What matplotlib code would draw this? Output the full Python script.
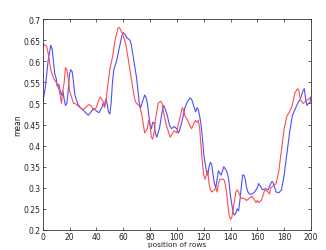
import matplotlib
matplotlib.use("Agg")
import matplotlib.pyplot as plt

blue_x = [0,2,4,6,7,8,9,10,11,12,13,14,15,16,17,18,19,20,21,22,23,24,26,28,30,32,34,36,38,40,42,44,45,46,47,48,49,50,51,52,53,55,57,59,60,61,63,65,66,68,70,71,72,73,74,75,76,77,78,79,80,81,82,83,84,85,86,87,88,89,90,91,92,93,94,95,96,98,100,101,102,104,106,108,110,111,112,114,115,116,117,118,119,120,121,122,123,124,125,126,127,128,129,130,131,132,133,134,135,136,137,138,139,140,141,142,143,144,145,146,147,148,149,150,151,152,153,154,156,158,160,161,162,164,166,168,170,171,172,173,174,176,178,180,182,184,186,188,190,192,194,195,196,197,198,199,200]
blue_y = [0.5,0.54,0.6,0.638,0.63,0.6,0.57,0.56,0.54,0.545,0.53,0.52,0.53,0.51,0.495,0.5,0.53,0.57,0.58,0.575,0.55,0.52,0.5,0.49,0.485,0.478,0.472,0.48,0.488,0.482,0.478,0.49,0.5,0.495,0.51,0.5,0.48,0.475,0.5,0.55,0.58,0.6,0.63,0.66,0.668,0.665,0.655,0.65,0.64,0.6,0.56,0.53,0.5,0.49,0.5,0.51,0.52,0.515,0.5,0.475,0.45,0.44,0.455,0.455,0.43,0.42,0.43,0.44,0.46,0.48,0.495,0.49,0.48,0.47,0.455,0.445,0.44,0.445,0.44,0.43,0.435,0.46,0.49,0.505,0.513,0.51,0.5,0.48,0.49,0.485,0.47,0.45,0.42,0.38,0.36,0.34,0.33,0.35,0.36,0.355,0.33,0.31,0.3,0.32,0.34,0.335,0.33,0.34,0.35,0.345,0.34,0.33,0.31,0.28,0.26,0.24,0.235,0.24,0.25,0.245,0.27,0.3,0.33,0.33,0.32,0.3,0.29,0.285,0.285,0.29,0.3,0.31,0.305,0.295,0.298,0.295,0.31,0.315,0.31,0.3,0.29,0.288,0.295,0.33,0.38,0.43,0.47,0.485,0.5,0.51,0.53,0.535,0.51,0.495,0.5,0.5,0.515]

red_x = [0,1,3,4,5,6,7,8,9,10,11,12,13,14,15,16,17,18,19,20,21,22,23,24,26,28,30,32,34,36,38,40,42,43,44,45,46,47,48,50,52,54,56,57,58,60,62,64,65,66,67,68,69,70,72,73,74,75,76,77,78,79,80,81,82,83,84,85,86,88,89,90,92,94,95,96,98,100,101,103,104,105,106,108,110,111,113,114,115,116,117,118,119,120,121,122,123,124,125,126,128,129,130,131,132,134,135,136,137,138,139,140,141,142,143,144,145,146,148,150,152,154,156,158,159,160,161,163,165,166,168,169,170,172,174,176,178,180,182,184,186,188,190,191,192,194,196,198,200]
red_y = [0.63,0.64,0.635,0.62,0.6,0.58,0.57,0.56,0.555,0.55,0.54,0.535,0.52,0.5,0.53,0.55,0.585,0.58,0.56,0.53,0.52,0.51,0.5,0.5,0.495,0.49,0.485,0.49,0.497,0.495,0.485,0.49,0.51,0.515,0.51,0.505,0.49,0.5,0.53,0.58,0.61,0.65,0.678,0.68,0.675,0.66,0.64,0.6,0.58,0.56,0.54,0.52,0.505,0.5,0.495,0.485,0.47,0.45,0.43,0.435,0.44,0.46,0.45,0.42,0.415,0.43,0.46,0.48,0.5,0.505,0.5,0.48,0.45,0.43,0.42,0.425,0.435,0.43,0.45,0.475,0.49,0.485,0.47,0.46,0.445,0.44,0.455,0.46,0.455,0.46,0.44,0.4,0.36,0.33,0.32,0.33,0.34,0.31,0.295,0.29,0.295,0.3,0.29,0.31,0.32,0.32,0.32,0.31,0.29,0.26,0.235,0.225,0.23,0.25,0.27,0.29,0.295,0.29,0.275,0.275,0.27,0.275,0.28,0.27,0.265,0.27,0.265,0.27,0.29,0.295,0.29,0.285,0.3,0.305,0.31,0.34,0.39,0.44,0.47,0.48,0.495,0.525,0.535,0.53,0.51,0.5,0.505,0.51,0.515]

xticks = [0, 20, 40, 60, 80, 100, 120, 140, 160, 180, 200]
yticks = [0.2, 0.25, 0.3, 0.35, 0.4, 0.45, 0.5, 0.55, 0.6, 0.65, 0.7]

fig = plt.figure(figsize=(3.26, 2.51), dpi=100)
ax = fig.add_axes([0.131, 0.08, 0.823, 0.84])
ax.plot(blue_x, blue_y, color=(0.3, 0.3, 1.0), lw=0.8)
ax.plot(red_x, red_y, color=(1.0, 0.3, 0.3), lw=0.8)
ax.set_xlim(0, 200)
ax.set_ylim(0.2, 0.7)
ax.set_xticks(xticks)
ax.set_yticks(yticks)
ax.set_xticklabels([str(t) for t in xticks])
ax.set_yticklabels([f"{t:g}" for t in yticks])
ax.tick_params(direction="in", length=2.5, width=0.5, labelsize=5.5, top=True, right=True, pad=1.5, colors="#222222")
for s in ax.spines.values():
    s.set_linewidth(0.6)
    s.set_color("#333333")
ax.set_xlabel("position of rows", fontsize=5.3, labelpad=0, color="#222222")
ax.set_ylabel("mean", fontsize=5.5, labelpad=1, color="#222222")
fig.savefig("out.png", dpi=100)
